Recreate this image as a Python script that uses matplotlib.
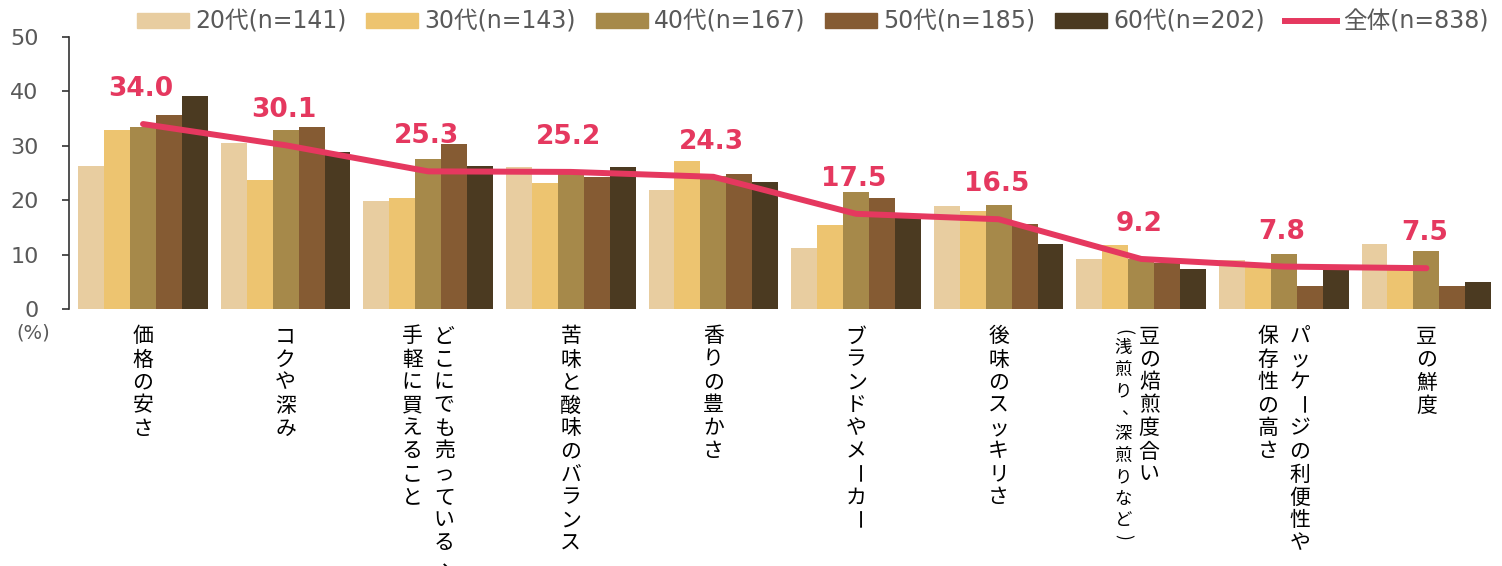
import matplotlib
matplotlib.use("Agg")
import matplotlib.pyplot as plt
import numpy as np
from matplotlib.patches import Patch
from matplotlib.lines import Line2D

plt.rcParams['font.family'] = ['DejaVu Sans', 'Noto Sans CJK JP']

# 回答項目 (改行 = 縦書きの次の列、右から左へ)
categories = [
    "価格の安さ",
    "コクや深み",
    "どこにでも売っている、\n手軽に買えること",
    "苦味と酸味のバランス",
    "香りの豊かさ",
    "ブランドやメーカー",
    "後味のスッキリさ",
    "豆の焙煎度合い\n(浅煎り、深煎りなど)",
    "パッケージの利便性や\n保存性の高さ",
    "豆の鮮度",
]

series_names = ["20代(n=141)", "30代(n=143)", "40代(n=167)", "50代(n=185)", "60代(n=202)"]
total_name = "全体(n=838)"

age20 = [26.2, 30.5, 19.9, 26.1, 21.9, 11.2, 19.0, 9.1, 9.0, 11.9]
age30 = [32.9, 23.8, 20.4, 23.1, 27.2, 15.4, 18.1, 11.8, 8.3, 7.3]
age40 = [33.5, 32.9, 27.5, 25.5, 24.4, 21.5, 19.1, 9.2, 10.1, 10.7]
age50 = [35.7, 33.5, 30.3, 24.2, 24.9, 20.4, 15.7, 8.5, 4.2, 4.2]
age60 = [39.1, 28.8, 26.2, 26.1, 23.3, 16.8, 11.9, 7.4, 7.5, 5.0]
total = [34.0, 30.1, 25.3, 25.2, 24.3, 17.5, 16.5, 9.2, 7.8, 7.5]

colors = ['#E8CDA0', '#EDC470', '#A6894A', '#855B33', '#4B3A21']
line_color = '#E5385F'
text_gray = '#595959'

W, H = 1502, 566
fig = plt.figure(figsize=(W / 100, H / 100), dpi=100)
ax = fig.add_axes([69 / W, 1 - 309 / H, (1497 - 69) / W, (309 - 37) / H])

x = np.arange(len(categories))
bw = 0.182
for k, vals in enumerate([age20, age30, age40, age50, age60]):
    ax.bar(x + (k - 2) * bw, vals, width=bw, color=colors[k], zorder=2)

ax.plot(x, total, color=line_color, lw=4.3, solid_capstyle='round', zorder=3)
for xi, v in zip(x, total):
    ax.annotate(f"{v:.1f}", (xi, v), xytext=(-2, 22), textcoords='offset pixels',
                ha='center', va='bottom', fontsize=19, fontweight='bold',
                color=line_color, zorder=4)

ax.set_xlim(-0.519, 9.495)
ax.set_ylim(0, 50)
ax.set_yticks(range(0, 51, 10))
ax.tick_params(axis='y', direction='out', length=5, width=1.2, color='#333333',
               labelsize=16, labelcolor=text_gray, pad=17)
ax.tick_params(axis='x', bottom=False, labelbottom=False)
for s in ['top', 'right', 'bottom']:
    ax.spines[s].set_visible(False)
ax.spines['left'].set_color('#333333')
ax.spines['left'].set_linewidth(1.2)

ax.text(-0.0252, -0.088, "(%)", transform=ax.transAxes, ha='center', va='center',
        fontsize=14, color=text_gray)


# 縦書きラベル
def draw_vertical(xc, text, dx, size, pitch, start):
    y = start
    for ch in text:
        half = ch in "()"
        step = pitch * (0.5 if half else 1.0)
        cy = y + step / 2
        rot = -90 if ch in "()ー" else 0
        ox = 0
        oy = 0
        if ch == "、":
            ox, oy = size * 0.55, size * 0.3
        ax.annotate(ch, (xc, 0), xycoords=ax.get_xaxis_transform(),
                    xytext=(dx + ox, -cy + oy), textcoords='offset pixels',
                    ha='center', va='center', rotation=rot, fontsize=size,
                    family=['Noto Sans CJK JP', 'DejaVu Sans'], color='black',
                    annotation_clip=False)
        y += step


for xi, label in zip(x, categories):
    cols = label.split("\n")
    if len(cols) == 1:
        draw_vertical(xi, cols[0], 0, 15, 23, 16)
    elif cols[1].startswith("("):
        draw_vertical(xi, cols[0], 8, 15, 23, 16)
        draw_vertical(xi, cols[1], -18, 12.5, 21.5, 18)
    else:
        draw_vertical(xi, cols[0], 16, 15, 23, 16)
        draw_vertical(xi, cols[1], -16, 15, 23, 16)

handles = [Patch(color=c) for c in colors] + [Line2D([], [], color=line_color, lw=4.3)]
fig.legend(handles, series_names + [total_name], ncol=6, loc='center right',
           bbox_to_anchor=(1500 / W, 1 - 22 / H), frameon=False, fontsize=17,
           handlelength=2.2, handleheight=0.62, handletextpad=0.25,
           columnspacing=0.85, borderpad=0, labelcolor=text_gray)

fig.savefig("out.png", dpi=100)
